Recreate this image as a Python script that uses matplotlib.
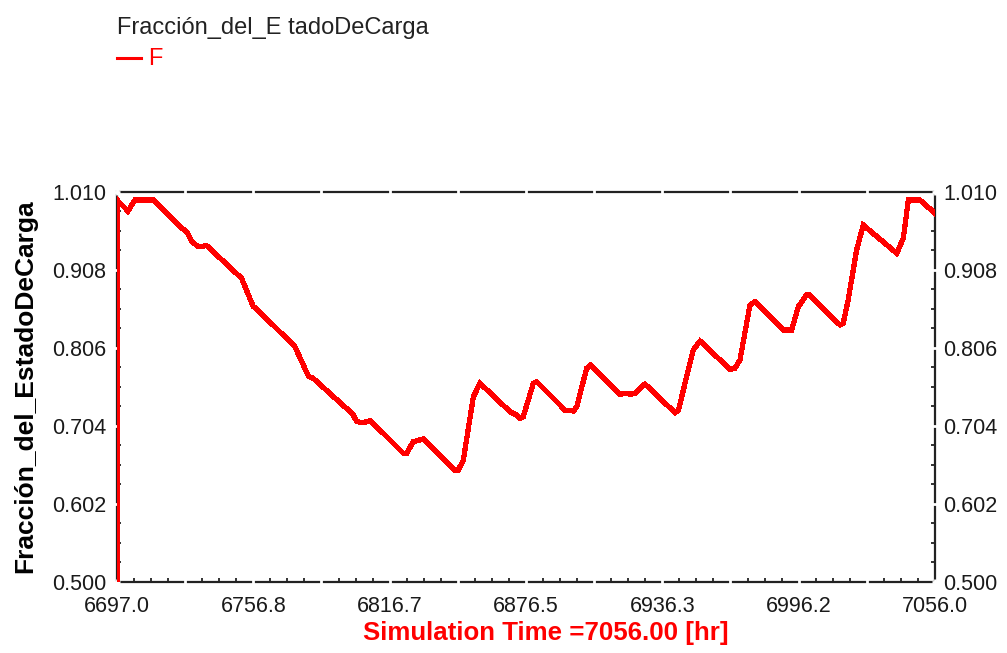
import matplotlib
matplotlib.use("Agg")
import matplotlib.pyplot as plt
from matplotlib.ticker import FuncFormatter, FixedLocator
from matplotlib.transforms import ScaledTranslation

# State-of-charge fraction over simulation time
time_hr = [6697.0, 6697.0, 6701.8, 6704.9, 6713.0, 6725.4, 6727.6, 6729.8, 6732.7,
           6736.4, 6751.7, 6756.8, 6758.3, 6775.1, 6781.0, 6783.1, 6798.5, 6800.7,
           6802.2, 6805.1, 6808.0, 6810.2, 6822.7, 6824.1, 6827.0, 6831.4, 6845.3,
           6846.8, 6849.0, 6853.4, 6856.3, 6869.5, 6872.4, 6873.9, 6875.3, 6879.7,
           6881.2, 6893.6, 6897.3, 6898.8, 6903.1, 6904.9, 6917.8, 6920.7, 6922.1,
           6924.3, 6928.7, 6941.9, 6943.4, 6949.9, 6952.9, 6966.0, 6968.2, 6970.4,
           6974.8, 6977.0, 6989.4, 6993.1, 6996.0, 6999.6, 7001.0, 7014.3, 7015.7,
           7017.9, 7021.6, 7024.5, 7039.2, 7042.1, 7044.3, 7049.4, 7056.0]
soc_fraction = [0.500, 0.999, 0.9845, 0.999, 0.999, 0.962, 0.9575, 0.9444, 0.938,
                0.9392, 0.8966, 0.8596, 0.8566, 0.8073, 0.7688, 0.766, 0.7246, 0.7181,
                0.7094, 0.7081, 0.7107, 0.705, 0.668, 0.668, 0.6832, 0.6868, 0.6463,
                0.6463, 0.6593, 0.742, 0.7595, 0.7224, 0.7181, 0.7138, 0.7159, 0.7595,
                0.7616, 0.7246, 0.7233, 0.729, 0.7791, 0.7834, 0.7451, 0.7464, 0.7451,
                0.7464, 0.7586, 0.7211, 0.7246, 0.803, 0.8147, 0.7778, 0.7791, 0.79,
                0.8618, 0.8661, 0.8291, 0.8291, 0.8596, 0.8748, 0.8748, 0.8356, 0.8378,
                0.8683, 0.9336, 0.9662, 0.9293, 0.9489, 0.9989, 0.9989, 0.9815]

x_min, x_max = 6697.0, 7056.0
y_min, y_max = 0.500, 1.010
x_tick_labels = ["6697.0", "6756.8", "6816.7", "6876.5", "6936.3", "6996.2", "7056.0"]
y_tick_labels = ["0.500", "0.602", "0.704", "0.806", "0.908", "1.010"]

series_name = "F"
legend_title = "Fracción_del_E tadoDeCarga"
y_label = "Fracción_del_EstadoDeCarga"
x_label = "Simulation Time =7056.00 [hr]"

plt.rcParams["font.family"] = ["Liberation Sans", "DejaVu Sans"]

W, H = 1007, 653
fig = plt.figure(figsize=(W / 100, H / 100), dpi=100)
ax = fig.add_axes([117 / W, 1 - 582 / H, (935 - 117) / W, (582 - 191.5) / H])

ax.plot(time_hr, soc_fraction, color="#ff0000", lw=3.0, zorder=3,
        solid_joinstyle="miter", antialiased=False)

ax.set_xlim(x_min, x_max)
ax.set_ylim(y_min, y_max)

# x: marks every half label step (labels on every other one); y: marks every label step
x_step = (x_max - x_min) / 12
x_major = [x_min + i * x_step for i in range(13)]
x_minor = [x_min + i * x_step / 4 for i in range(49)]
ax.xaxis.set_major_locator(FixedLocator(x_major))
ax.xaxis.set_minor_locator(FixedLocator(x_minor))
ax.xaxis.set_major_formatter(FuncFormatter(
    lambda v, p: x_tick_labels[p // 2] if p is not None and p % 2 == 0 else ""))

y_step = (y_max - y_min) / 5
y_major = [y_min + i * y_step for i in range(6)]
y_minor = [y_min + i * y_step / 4 for i in range(21)]
ax.yaxis.set_major_locator(FixedLocator(y_major))
ax.yaxis.set_minor_locator(FixedLocator(y_minor))
ax.yaxis.set_major_formatter(FuncFormatter(
    lambda v, p: y_tick_labels[p] if p is not None else ""))

for sp in ax.spines.values():
    sp.set_linewidth(1.6)
    sp.set_color("#222222")

# white major marks cut small gaps into the frame; minor marks are short dark dots
ax.xaxis.set_zorder(2.6)
ax.yaxis.set_zorder(2.6)
ax.tick_params(which="major", direction="inout", length=4, width=2.0, color="white",
               top=True, bottom=True, left=True, right=True,
               labelsize=15.5, labelcolor="#1a1a1a", pad=8)
ax.tick_params(axis="y", which="major", labelleft=True, labelright=True, pad=6)
ax.tick_params(which="minor", direction="in", length=3, width=1.3, color="#222222",
               bottom=True, left=True, right=True, top=False)

fig.text(25 / W, 1 - 386 / H, y_label, rotation=90, ha="center", va="center",
         fontsize=19, fontweight="bold", color="black")
fig.text(546 / W, 1 - 640 / H, x_label, ha="center", va="baseline",
         fontsize=18.6, fontweight="bold", color="#ff0000")

# legend block above the chart
fig.text(117 / W, 1 - 34 / H, legend_title, ha="left", va="baseline",
         fontsize=17, color="#222222")
fig.add_artist(plt.Line2D([117 / W, 141 / W], [1 - 57.5 / H, 1 - 57.5 / H],
                          color="#ff0000", lw=2.2, transform=fig.transFigure))
fig.text(148 / W, 1 - 65 / H, series_name, ha="left", va="baseline",
         fontsize=17, color="#ff0000")

# right-hand labels sit a little closer to the frame
fig.canvas.draw()
shift = ScaledTranslation(-3 / 100, 0, fig.dpi_scale_trans)
for t in ax.yaxis.get_major_ticks():
    t.label2.set_transform(t.label2.get_transform() + shift)

fig.savefig("out.png", dpi=100)
